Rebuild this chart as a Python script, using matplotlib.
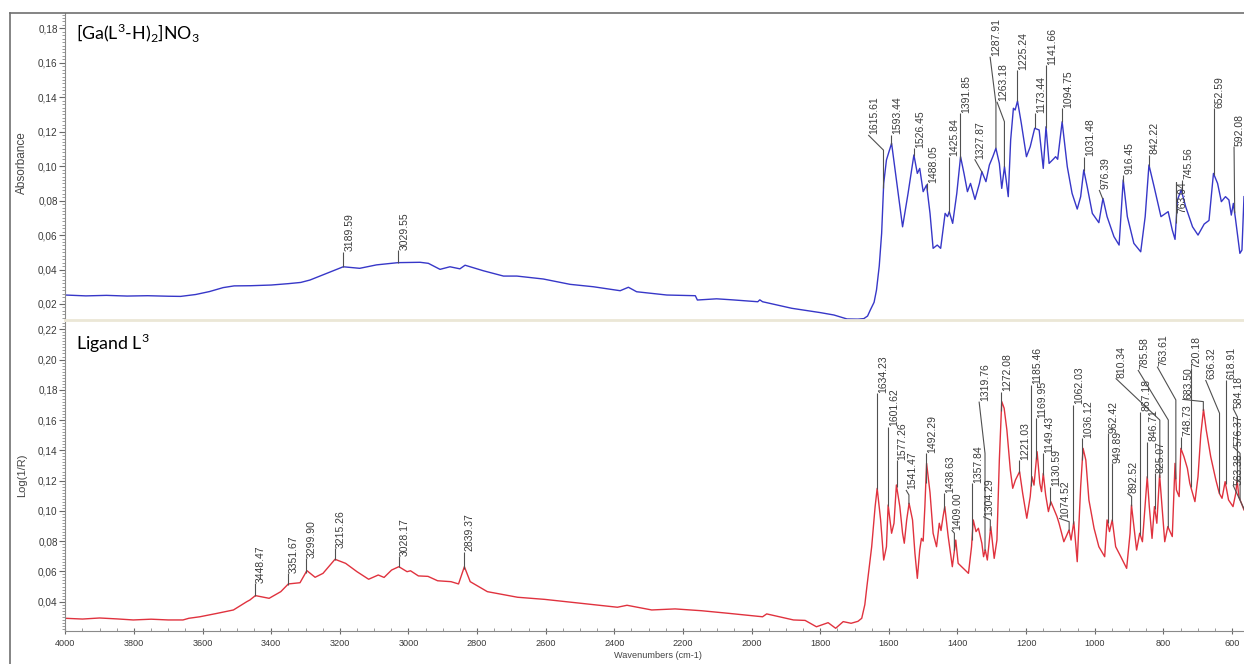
"""FTIR spectra: [Ga(L3-H)2]NO3 complex (top) vs free ligand L3 (bottom)."""
import numpy as np
import matplotlib
matplotlib.use("Agg")
import matplotlib.pyplot as plt
from matplotlib.lines import Line2D
from matplotlib.ticker import MultipleLocator, FuncFormatter
from matplotlib.transforms import offset_copy

# ---- data ------------------------------------------------------------------
ga_wn = [4000, 3940, 3880, 3820, 3760, 3700, 3664, 3620, 3580, 3540, 3508, 3460,
         3400, 3350, 3314, 3287, 3238, 3190, 3142, 3093, 3030, 2966, 2942, 2908,
         2879, 2850, 2835, 2782, 2723, 2684, 2607, 2529, 2461, 2383, 2359, 2335,
         2247, 2164, 2158, 2102, 2056, 1982, 1976, 1968, 1883, 1800, 1760, 1722,
         1690, 1673, 1662, 1654, 1643, 1636, 1628, 1621, 1615, 1607, 1592, 1578,
         1560, 1544, 1527, 1517, 1510, 1500, 1490, 1480, 1471, 1459, 1449, 1436,
         1429, 1424, 1414, 1402, 1391, 1381, 1371, 1362, 1349, 1336, 1329, 1317,
         1307, 1297, 1288, 1278, 1271, 1263, 1252, 1245, 1237, 1232, 1225, 1214,
         1199, 1188, 1175, 1162, 1150, 1142, 1133, 1121, 1114, 1108, 1095, 1080,
         1066, 1051, 1041, 1032, 1022, 1007, 988, 976, 964, 944, 929, 917, 905,
         886, 866, 853, 842, 827, 807, 786, 774, 766, 759, 748, 735, 715, 699,
         681, 667, 654, 642, 631, 619, 609, 602, 596, 590, 577, 571, 565]
ga_abs = [0.0252, 0.0247, 0.0250, 0.0246, 0.0248, 0.0245, 0.0244, 0.0255, 0.0272,
          0.0295, 0.0305, 0.0306, 0.0310, 0.0318, 0.0325, 0.0339, 0.0378, 0.0416,
          0.0407, 0.0427, 0.0440, 0.0442, 0.0436, 0.0401, 0.0416, 0.0404, 0.0425,
          0.0393, 0.0362, 0.0362, 0.0345, 0.0314, 0.0300, 0.0277, 0.0297, 0.0271,
          0.0252, 0.0248, 0.0223, 0.0230, 0.0224, 0.0213, 0.0224, 0.0213, 0.0175,
          0.0150, 0.0136, 0.0113, 0.0112, 0.0115, 0.0130, 0.0165, 0.0210, 0.0281,
          0.0420, 0.0610, 0.0900, 0.1036, 0.1133, 0.0920, 0.0648, 0.0842, 0.1065,
          0.0958, 0.0987, 0.0852, 0.0891, 0.0726, 0.0523, 0.0542, 0.0523, 0.0726,
          0.0707, 0.0736, 0.0668, 0.0842, 0.1055, 0.0958, 0.0852, 0.0900, 0.0807,
          0.0900, 0.0968, 0.0910, 0.1007, 0.1055, 0.1104, 0.1016, 0.0871, 0.0997,
          0.0823, 0.1152, 0.1336, 0.1326, 0.1378, 0.1249, 0.1055, 0.1113, 0.1220,
          0.1210, 0.0987, 0.1229, 0.1016, 0.1040, 0.1055, 0.1040, 0.1258, 0.0997,
          0.0842, 0.0751, 0.0823, 0.0978, 0.0881, 0.0726, 0.0672, 0.0813, 0.0707,
          0.0591, 0.0542, 0.0920, 0.0707, 0.0552, 0.0503, 0.0707, 0.1007, 0.0881,
          0.0707, 0.0736, 0.0629, 0.0575, 0.0804, 0.0862, 0.0765, 0.0648, 0.0600,
          0.0664, 0.0685, 0.0958, 0.0900, 0.0794, 0.0823, 0.0804, 0.0716, 0.0784,
          0.0697, 0.0494, 0.0513, 0.0823]

l3_wn = [4000, 3950, 3900, 3850, 3802, 3750, 3700, 3657, 3640, 3608, 3559, 3510,
         3471, 3462, 3446, 3406, 3372, 3350, 3316, 3296, 3272, 3249, 3214, 3183,
         3150, 3116, 3088, 3071, 3049, 3028, 3004, 2994, 2971, 2943, 2915, 2876,
         2854, 2837, 2820, 2770, 2682, 2603, 2514, 2391, 2363, 2291, 2223, 2146,
         2068, 1968, 1956, 1878, 1844, 1811, 1777, 1755, 1733, 1710, 1690, 1679,
         1670, 1664, 1650, 1640, 1634, 1624, 1615, 1607, 1602, 1592, 1585, 1578,
         1568, 1560, 1555, 1548, 1541, 1531, 1524, 1517, 1510, 1505, 1500, 1495,
         1490, 1480, 1471, 1461, 1453, 1448, 1442, 1437, 1427, 1415, 1405, 1398,
         1383, 1368, 1359, 1354, 1346, 1339, 1329, 1324, 1319, 1313, 1303, 1293,
         1285, 1278, 1271, 1264, 1256, 1246, 1239, 1231, 1219, 1210, 1198, 1188,
         1183, 1177, 1168, 1160, 1155, 1150, 1143, 1135, 1128, 1110, 1104, 1090,
         1075, 1069, 1061, 1051, 1041, 1034, 1026, 1017, 1002, 988, 971, 964, 957,
         949, 939, 924, 907, 897, 893, 878, 869, 861, 847, 841, 833, 826, 819, 811,
         796, 787, 774, 766, 762, 754, 749, 740, 730, 723, 708, 699, 691, 683, 675,
         662, 647, 637, 629, 620, 610, 597, 589, 585, 580, 565]
l3_logr = [0.0290, 0.0285, 0.0292, 0.0286, 0.0279, 0.0284, 0.0279, 0.0279, 0.0290,
           0.0300, 0.0322, 0.0345, 0.0400, 0.0411, 0.0440, 0.0422, 0.0466, 0.0517,
           0.0525, 0.0605, 0.0561, 0.0587, 0.0680, 0.0653, 0.0598, 0.0548, 0.0576,
           0.0560, 0.0609, 0.0631, 0.0598, 0.0604, 0.0570, 0.0567, 0.0538, 0.0532,
           0.0517, 0.0631, 0.0532, 0.0466, 0.0429, 0.0415, 0.0393, 0.0363, 0.0376,
           0.0345, 0.0352, 0.0340, 0.0323, 0.0300, 0.0319, 0.0279, 0.0276, 0.0234,
           0.0261, 0.0224, 0.0268, 0.0257, 0.0270, 0.0290, 0.0380, 0.0499, 0.0763,
           0.1028, 0.1149, 0.0940, 0.0675, 0.0763, 0.1039, 0.0852, 0.0918, 0.1171,
           0.1028, 0.0852, 0.0786, 0.0940, 0.1050, 0.0940, 0.0720, 0.0554, 0.0742,
           0.0818, 0.0800, 0.1028, 0.1314, 0.1120, 0.0852, 0.0763, 0.0918, 0.0870,
           0.0962, 0.1028, 0.0830, 0.0631, 0.0807, 0.0653, 0.0620, 0.0587, 0.0763,
           0.0940, 0.0863, 0.0885, 0.0786, 0.0697, 0.0742, 0.0675, 0.0896, 0.0686,
           0.0807, 0.1336, 0.1722, 0.1678, 0.1534, 0.1270, 0.1149, 0.1204, 0.1259,
           0.1116, 0.0951, 0.1094, 0.1226, 0.1170, 0.1391, 0.1182, 0.1127, 0.1248,
           0.1105, 0.0995, 0.1061, 0.0962, 0.0918, 0.0796, 0.0873, 0.0807, 0.0928,
           0.0664, 0.1160, 0.1413, 0.1336, 0.1072, 0.0885, 0.0763, 0.0697, 0.0940,
           0.0863, 0.0940, 0.0763, 0.0697, 0.0620, 0.0852, 0.1039, 0.0741, 0.0852,
           0.0796, 0.1226, 0.1028, 0.0818, 0.1028, 0.0918, 0.1237, 0.0796, 0.0896,
           0.0830, 0.1314, 0.1138, 0.1094, 0.1413, 0.1358, 0.1281, 0.1182, 0.1061,
           0.1226, 0.1502, 0.1671, 0.1534, 0.1358, 0.1204, 0.1116, 0.1083, 0.1193,
           0.1072, 0.1028, 0.1116, 0.1204, 0.1094, 0.1006]

ga_peaks = ["3189.59", "3029.55", "1615.61", "1593.44", "1526.45", "1488.05",
            "1425.84", "1391.85", "1327.87", "1287.91", "1263.18", "1225.24",
            "1173.44", "1141.66", "1094.75", "1031.48", "976.39", "916.45",
            "842.22", "763.04", "745.56", "652.59", "592.08"]
l3_peaks = ["3448.47", "3351.67", "3299.90", "3215.26", "3028.17", "2839.37",
            "1634.23", "1601.62", "1577.26", "1541.47", "1492.29", "1438.63",
            "1409.00", "1357.84", "1319.76", "1304.29", "1272.08", "1221.03",
            "1185.46", "1169.95", "1149.43", "1130.59", "1074.52", "1062.03",
            "1036.12", "962.42", "949.89", "892.52", "867.18", "846.71", "825.07",
            "810.34", "785.58", "763.61", "748.73", "720.18", "683.50", "636.32",
            "618.91", "584.18", "576.37", "563.38"]

# label placement: text bottom y, text x (None = at the peak), leader knee y
ga_spots = {
    "3189.59": (0.0503, None, None), "3029.55": (0.0513, None, None),
    "1615.61": (0.1181, 1660, 0.1093), "1593.44": (0.1181, None, None),
    "1526.45": (0.1104, None, None), "1488.05": (0.0902, None, None),
    "1425.84": (0.1055, None, None), "1391.85": (0.1307, None, None),
    "1327.87": (0.1040, 1350, None), "1287.91": (0.1635, 1305, 0.1365),
    "1263.18": (0.1374, 1285, 0.1258), "1225.24": (0.1558, None, None),
    "1173.44": (0.1307, None, None), "1141.66": (0.1587, None, None),
    "1094.75": (0.1336, None, None), "1031.48": (0.1055, None, None),
    "976.39": (0.0862, 987, None), "916.45": (0.0949, None, None),
    "842.22": (0.1065, None, None), "763.04": (0.0726, None, 0.0910),
    "745.56": (0.0920, None, None), "652.59": (0.1336, None, None),
    "592.08": (0.1113, 594, None),
}
l3_spots = {
    "3448.47": (0.0521, None, None), "3351.67": (0.0587, None, None),
    "3299.90": (0.0686, None, None), "3215.26": (0.0752, None, None),
    "3028.17": (0.0701, None, None), "2839.37": (0.0730, None, None),
    "1634.23": (0.1777, None, None), "1601.62": (0.1556, None, None),
    "1577.26": (0.1336, None, None), "1541.47": (0.1138, 1550, 0.1105),
    "1492.29": (0.1380, None, None), "1438.63": (0.1116, None, None),
    "1409.00": (0.0873, 1417, 0.0852), "1357.84": (0.1182, None, None),
    "1319.76": (0.1722, 1337, 0.1380), "1304.29": (0.0962, 1325, 0.0940),
    "1272.08": (0.1788, None, None), "1221.03": (0.1336, None, None),
    "1185.46": (0.1832, None, None), "1169.95": (0.1612, None, None),
    "1149.43": (0.1380, None, None), "1130.59": (0.1160, None, None),
    "1074.52": (0.0951, 1104, 0.0928), "1062.03": (0.1700, None, None),
    "1036.12": (0.1480, None, None), "962.42": (0.1513, None, None),
    "949.89": (0.1314, None, None), "892.52": (0.1116, 905, 0.1094),
    "867.18": (0.1656, None, None), "846.71": (0.1457, None, None),
    "825.07": (0.1248, None, None), "810.34": (0.1876, 939, 0.1600),
    "785.58": (0.1931, 874, 0.1600), "763.61": (0.1953, 818, 0.1733),
    "748.73": (0.1490, None, None), "720.18": (0.1942, None, None),
    "683.50": (0.1737, 745, 0.1722), "636.32": (0.1865, 677, 0.1645),
    "618.91": (0.1865, None, None), "584.18": (0.1678, 597, 0.1620),
    "576.37": (0.1424, 597, 0.1380), "563.38": (0.1170, 597, None),
}

x_ticks = [4000, 3800, 3600, 3400, 3200, 3000, 2800, 2600, 2400, 2200,
           2000, 1800, 1600, 1400, 1200, 1000, 800, 600]

# ---- figure -----------------------------------------------------------------
W, H = 1244, 664
fig = plt.figure(figsize=(W / 100, H / 100), dpi=100)
fig.patch.set_facecolor("white")

TXT = "#3a3a3a"
SANS = ["Liberation Sans", "DejaVu Sans"]


def px_box(x0, y0, x1, y1):
    return [x0 / W, 1 - y1 / H, (x1 - x0) / W, (y1 - y0) / H]


ax_top = fig.add_axes(px_box(65.3, 12.5, W, 320))
ax_bot = fig.add_axes(px_box(65.3, 322, W, 631))

comma = FuncFormatter(lambda v, p: f"{v:.2f}".replace(".", ","))

for ax, ylim in ((ax_top, (0.0107, 0.1892)), (ax_bot, (0.0206, 0.2248))):
    ax.set_xlim(4000, 565)
    ax.set_ylim(*ylim)
    ax.spines["top"].set_visible(False)
    ax.spines["right"].set_visible(False)
    ax.spines["left"].set_color("#8a8a8a")
    ax.spines["left"].set_linewidth(0.8)
    ax.yaxis.set_major_locator(MultipleLocator(0.02))
    ax.yaxis.set_minor_locator(MultipleLocator(0.002))
    ax.yaxis.set_major_formatter(comma)
    ax.tick_params(axis="y", which="major", length=4, width=0.8, color="#6a6a6a",
                   labelsize=7.2, labelcolor=TXT, pad=1.5)
    ax.tick_params(axis="y", which="minor", length=2, width=0.6, color="#8a8a8a")
    for t in ax.get_yticklabels():
        t.set_family(SANS)

# top panel: no x axis, just the pale divider
ax_top.tick_params(axis="x", which="both", bottom=False, labelbottom=False)
ax_top.spines["bottom"].set_color("#ebe7d6")
ax_top.spines["bottom"].set_linewidth(2)

ax_bot.spines["bottom"].set_color("#8a8a8a")
ax_bot.spines["bottom"].set_linewidth(0.8)
ax_bot.set_xticks(x_ticks)
ax_bot.xaxis.set_minor_locator(MultipleLocator(50))
ax_bot.tick_params(axis="x", which="major", direction="inout", length=4, width=0.8,
                   color="#6a6a6a", labelsize=6.6, labelcolor=TXT, pad=4)
ax_bot.tick_params(axis="x", which="minor", direction="in", length=2, width=0.6,
                   color="#8a8a8a")
for t in ax_bot.get_xticklabels():
    t.set_family(SANS)

ax_top.plot(ga_wn, ga_abs, color="#3737c8", lw=1.0)
ax_bot.plot(l3_wn, l3_logr, color="#e0323e", lw=1.0)


def mark_peaks(ax, wn, val, peaks, spots):
    tr = offset_copy(ax.transData, fig=fig, x=1.0, y=0.5, units="dots")
    wn_r, val_r = np.asarray(wn)[::-1], np.asarray(val)[::-1]
    for lab in peaks:
        x0 = float(lab)
        y0 = np.interp(x0, wn_r, val_r)
        ty, tx, knee = spots[lab]
        tx = x0 if tx is None else tx
        xs, ys = [x0], [y0]
        if knee is not None:
            xs.append(x0)
            ys.append(knee)
        xs.append(tx)
        ys.append(ty)
        ax.plot(xs, ys, color="#505050", lw=0.8, solid_capstyle="butt")
        ax.text(tx, ty, lab, rotation=90, ha="left", va="bottom", transform=tr,
                fontsize=7.5, color=TXT, family=SANS, clip_on=False)


mark_peaks(ax_top, ga_wn, ga_abs, ga_peaks, ga_spots)
mark_peaks(ax_bot, l3_wn, l3_logr, l3_peaks, l3_spots)

# panel titles
fig.text(76 / W, 1 - 40 / H,
         r"[Ga(L$^{\mathregular{3}}$-H)$_{\mathregular{2}}$]NO$_{\mathregular{3}}$",
         fontsize=12.8, family="Lato", va="baseline", ha="left")
fig.text(76 / W, 1 - 350 / H, r"Ligand L$^{\mathregular{3}}$",
         fontsize=12.8, family="Lato", va="baseline", ha="left")

# axis titles
fig.text(21.7 / W, 1 - 162.5 / H, "Absorbance", rotation=90, ha="center",
         va="center", fontsize=8.5, color="#444444", family=SANS)
fig.text(21.7 / W, 1 - 475.7 / H, "Log(1/R)", rotation=90, ha="center",
         va="center", fontsize=8, color="#444444", family=SANS)
fig.text(658 / W, 1 - 655 / H, "Wavenumbers (cm-1)", ha="center", va="center",
         fontsize=6.6, color="#444444", family=SANS)

# outer frame of the screenshot
fig.add_artist(Line2D([10 / W, 10 / W], [0, 1 - 12.5 / H], color="#707070", lw=1.2))
fig.add_artist(Line2D([10 / W, 1], [1 - 12.5 / H, 1 - 12.5 / H], color="#707070", lw=1.2))

fig.savefig("out.png", dpi=100, facecolor="white")
